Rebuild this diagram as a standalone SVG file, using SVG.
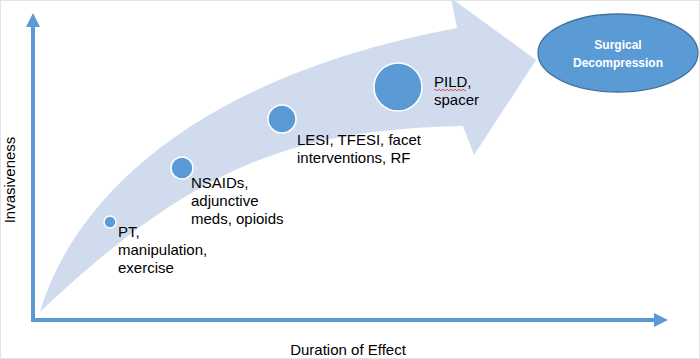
<svg xmlns="http://www.w3.org/2000/svg" width="700" height="359" viewBox="0 0 700 359">
<style>
.lbl{font-family:"Liberation Sans",Arial,sans-serif;font-size:15px;fill:#000}
.dot{fill:#5b9bd5;stroke:#fff;stroke-width:1.5}
.axis{stroke:#5b9bd5;stroke-width:4;fill:none}
.head{fill:#5b9bd5}
</style>
<rect x="0.5" y="0.5" width="699" height="358" fill="#fff" stroke="#e4e4e4"/>
<g id="connectors">
<path id="band" d="M40,312 C70,210 180,80 457,28 L451,-2 L536,60 L474,155 L463,126 C300,130 200,160 40,312 Z" fill="#d0dcee"/>
<path class="axis" d="M33,25 V322 M31,320 H656"/>
<path class="head" d="M33,13 L26,27 L40,27 Z"/>
<path class="head" d="M668,320 L654,313 L654,327 Z"/>
</g>
<g id="node-pt">
<circle class="dot" cx="110" cy="222" r="6"/>
<text class="lbl" x="118" y="237">PT,</text>
<text class="lbl" x="118" y="255">manipulation,</text>
<text class="lbl" x="118" y="273">exercise</text>
</g>
<g id="node-nsaids">
<circle class="dot" cx="182" cy="168" r="11"/>
<text class="lbl" x="191" y="188">NSAIDs,</text>
<text class="lbl" x="191" y="206">adjunctive</text>
<text class="lbl" x="191" y="224">meds, opioids</text>
</g>
<g id="node-lesi">
<circle class="dot" cx="282" cy="119" r="14"/>
<text class="lbl" x="297" y="145">LESI, TFESI, facet</text>
<text class="lbl" x="297" y="163">interventions, RF</text>
</g>
<g id="node-pild">
<circle class="dot" cx="398" cy="87" r="24"/>
<text class="lbl" x="434" y="87">PILD,</text>
<path d="M434,90 q1,-1.5 2,0 t2,0 t2,0 t2,0 t2,0 t2,0 t2,0 t2,0 t2,0 t2,0 t2,0 t2,0 t2,0 t2,0 t2,0 t2,0" fill="none" stroke="#e03030" stroke-width="0.8"/>
<text class="lbl" x="434" y="105">spacer</text>
</g>
<g id="node-surgical">
<ellipse cx="618" cy="53" rx="80" ry="39" fill="#5b9bd5" stroke="#41719c" stroke-width="1.3"/>
<text x="618" y="49" text-anchor="middle" style="font-family:'Liberation Sans',Arial,sans-serif;font-size:12px;font-weight:bold;fill:#fff">Surgical</text>
<text x="618" y="67" text-anchor="middle" style="font-family:'Liberation Sans',Arial,sans-serif;font-size:12px;font-weight:bold;fill:#fff">Decompression</text>
</g>
<g id="axis-labels">
<text class="lbl" transform="translate(15,180) rotate(-90)" text-anchor="middle">Invasiveness</text>
<text class="lbl" x="348" y="355" text-anchor="middle">Duration of Effect</text>
</g>
</svg>
